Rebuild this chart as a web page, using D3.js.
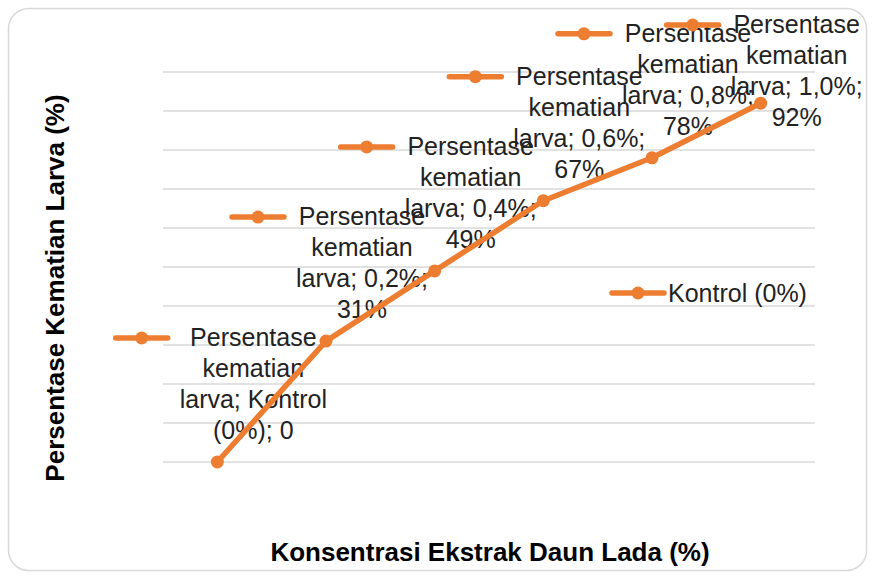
<!DOCTYPE html>
<html>
<head>
  <meta charset="utf-8">
  <title>Persentase Kematian Larva</title>
  <script src="https://d3js.org/d3.v7.min.js"></script>
  <style>
    body { margin: 0; background: #fff; }
    text { font-family: "Liberation Sans", Arial, sans-serif; }
  </style>
</head>
<body>
  <div id="chart"></div>

  <script>
    // data
    var categories = ["Kontrol (0%)", "0,2%", "0,4%", "0,6%", "0,8%", "1,0%"];
    var values = [0, 31, 49, 67, 78, 92];
    var valueLabels = ["0", "31%", "49%", "67%", "78%", "92%"];
    var seriesName = "Persentase kematian larva";
    var legendLabel = "Kontrol (0%)";
    var gridTicks = [0, 10, 20, 30, 40, 50, 60, 70, 80, 90, 100];

    var width = 873;
    var height = 576;
    var orange = "#ED7D31";

    var data = categories.map(function(c, i) {
      return { cat: c, value: values[i], label: valueLabels[i] };
    });

    var svg = d3.select("#chart")
      .append("svg")
      .attr("width", width)
      .attr("height", height);

    // chart frame
    svg.append("rect")
      .attr("x", 8.5)
      .attr("y", 8.5)
      .attr("width", 858)
      .attr("height", 562)
      .attr("rx", 20)
      .attr("fill", "#fff")
      .attr("stroke", "#d9d9d9")
      .attr("stroke-width", 1.5);

    var x = d3.scaleBand()
      .domain(categories)
      .range([163, 815]);

    var y = d3.scaleLinear()
      .domain([0, 100])
      .range([462, 72]);

    function cx(d) { return x(d.cat) + x.bandwidth() / 2; }
    function cy(d) { return y(d.value); }

    // gridlines
    svg.append("g")
      .selectAll("line")
      .data(gridTicks)
      .enter()
      .append("line")
      .attr("x1", x.range()[0])
      .attr("x2", x.range()[1])
      .attr("y1", function(d) { return y(d); })
      .attr("y2", function(d) { return y(d); })
      .attr("stroke", "#d9d9d9")
      .attr("stroke-width", 1.5);

    // axis titles
    svg.append("text")
      .attr("x", 490)
      .attr("y", 561)
      .attr("text-anchor", "middle")
      .style("font-size", "26px")
      .style("font-weight", "bold")
      .style("fill", "#000")
      .text("Konsentrasi Ekstrak Daun Lada (%)");

    svg.append("text")
      .attr("transform", "translate(64,288) rotate(-90)")
      .attr("text-anchor", "middle")
      .style("font-size", "26px")
      .style("font-weight", "bold")
      .style("fill", "#000")
      .text("Persentase Kematian Larva (%)");

    // legend key: short line with marker
    function drawKey(g, xRight, yMid) {
      g.append("line")
        .attr("x1", xRight - 52)
        .attr("x2", xRight)
        .attr("y1", yMid)
        .attr("y2", yMid)
        .attr("stroke", orange)
        .attr("stroke-width", 5.5)
        .attr("stroke-linecap", "round");
      g.append("circle")
        .attr("cx", xRight - 26)
        .attr("cy", yMid)
        .attr("r", 6.5)
        .attr("fill", orange);
    }

    // word wrap for data labels
    var fontSize = 25;
    var lineGap = 31;
    var measure = svg.append("text").style("font-size", fontSize + "px");
    function textWidth(s) {
      measure.text(s);
      return measure.node().getComputedTextLength();
    }
    function wrap(str, maxW) {
      var words = str.split(" ");
      var lines = [];
      var cur = "";
      words.forEach(function(w) {
        var test = cur ? cur + " " + w : w;
        if (cur && textWidth(test) > maxW) {
          lines.push(cur);
          cur = w;
        } else {
          cur = test;
        }
      });
      if (cur) lines.push(cur);
      return lines;
    }

    // data labels
    var labels = svg.append("g");
    data.forEach(function(d) {
      var full = seriesName + "; " + d.cat + "; " + d.label;
      var lines = wrap(full, 150);
      var widths = lines.map(textWidth);
      var maxW = d3.max(widths);
      var tx = cx(d) + 36;
      var first = cy(d) - 23 - (lines.length - 1) * lineGap;
      if (first < 33) first = 33;

      var g = labels.append("g");
      g.selectAll("text")
        .data(lines)
        .enter()
        .append("text")
        .attr("x", tx)
        .attr("y", function(l, i) { return first + i * lineGap; })
        .attr("text-anchor", "middle")
        .style("font-size", fontSize + "px")
        .style("fill", "#222")
        .text(function(l) { return l; });

      drawKey(g, tx - maxW / 2 - 12, first - 8);
    });
    measure.remove();

    // series line and markers
    var line = d3.line()
      .x(cx)
      .y(cy);

    svg.append("path")
      .datum(data)
      .attr("d", line)
      .attr("fill", "none")
      .attr("stroke", orange)
      .attr("stroke-width", 5.5)
      .attr("stroke-linejoin", "round");

    svg.selectAll(".dot")
      .data(data)
      .enter()
      .append("circle")
      .attr("class", "dot")
      .attr("cx", cx)
      .attr("cy", cy)
      .attr("r", 6.5)
      .attr("fill", orange);

    // legend
    var legend = svg.append("g");
    drawKey(legend, 664, 293);
    legend.append("text")
      .attr("x", 668)
      .attr("y", 302)
      .style("font-size", fontSize + "px")
      .style("fill", "#222")
      .text(legendLabel);
  </script>
</body>
</html>
